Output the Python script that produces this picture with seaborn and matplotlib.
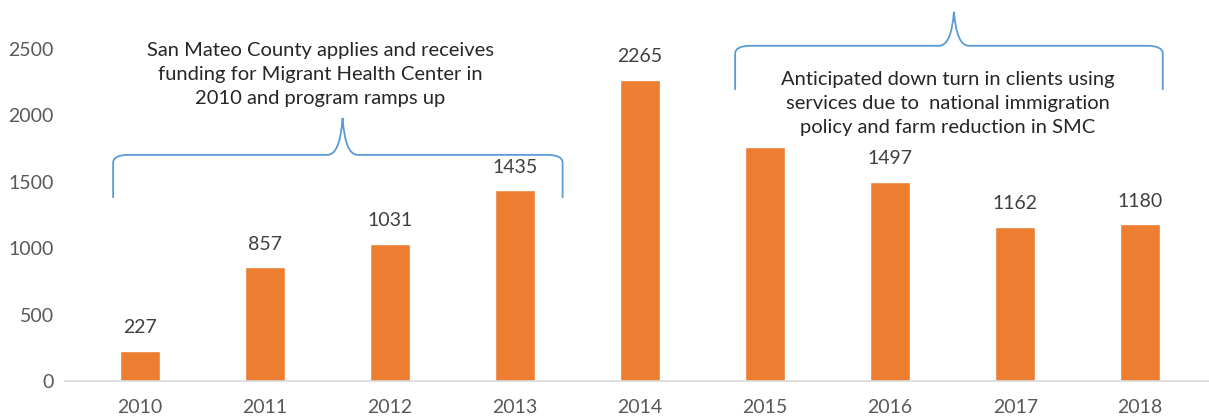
import matplotlib
matplotlib.use('Agg')
import matplotlib.pyplot as plt
from matplotlib.path import Path
from matplotlib.patches import PathPatch
import seaborn as sns
import pandas as pd

years = ['2010', '2011', '2012', '2013', '2014', '2015', '2016', '2017', '2018']
clients = [227, 857, 1031, 1435, 2265, 1760, 1497, 1162, 1180]
# 2015 label is hidden behind the annotation in the original
show_label = [True, True, True, True, True, False, True, True, True]

note_left = ('San Mateo County applies and receives\n'
             'funding for Migrant Health Center in\n'
             '2010 and program ramps up')
note_right = ('Anticipated down turn in clients using\n'
              'services due to  national immigration\n'
              'policy and farm reduction in SMC')

sns.set_style('white')
plt.rcParams['font.family'] = ['Lato', 'DejaVu Sans']

df = pd.DataFrame({'Year': years, 'Clients': clients})

fig = plt.figure(figsize=(12.09, 4.17), dpi=100)
ax = fig.add_axes([65 / 1209, 1 - 381 / 417, 1 - 65 / 1209, (381 - 9) / 417])

sns.barplot(data=df, x='Year', y='Clients', color='#ED7D31', width=0.32,
            saturation=1, ax=ax)

ax.set_ylim(0, 2800)
ax.set_xlim(-0.6, 8.55)
ax.set_yticks([0, 500, 1000, 1500, 2000, 2500])
ax.set_xlabel('')
ax.set_ylabel('')
for s in ['top', 'right', 'left']:
    ax.spines[s].set_visible(False)
ax.spines['bottom'].set_color('#D9D9D9')
ax.spines['bottom'].set_linewidth(1.2)
ax.tick_params(axis='both', length=0, labelsize=14, colors='#595959')
ax.tick_params(axis='x', pad=13)
ax.tick_params(axis='y', pad=8)

for i, (v, show) in enumerate(zip(clients, show_label)):
    if show:
        ax.text(i, v + 110, str(v), ha='center', va='bottom', fontsize=14,
                color='#404040')


def brace(x0, x1, xm, y_h, y_end, y_tip):
    r = 0.12
    ry = 60
    verts = [
        (x0, y_end), (x0, y_h - ry), (x0, y_h), (x0 + r, y_h),
        (xm - r, y_h), (xm - 0.02, y_h), (xm, y_tip),
        (xm + 0.02, y_h), (xm + r, y_h),
        (x1 - r, y_h), (x1, y_h), (x1, y_h - ry), (x1, y_end),
    ]
    codes = [Path.MOVETO, Path.LINETO, Path.CURVE3, Path.CURVE3,
             Path.LINETO, Path.CURVE3, Path.CURVE3,
             Path.CURVE3, Path.CURVE3,
             Path.LINETO, Path.CURVE3, Path.CURVE3, Path.LINETO]
    ax.add_patch(PathPatch(Path(verts, codes), fill=False, edgecolor='#5B9BD5',
                           lw=1.3, clip_on=False))


brace(-0.215, 3.38, 1.62, 1702, 1378, 1980)
brace(4.76, 8.18, 6.51, 2523, 2191, 2779)

ax.text(1.44, 2305, note_left, ha='center', va='center', fontsize=14.5,
        color='#262626', linespacing=1.5)
ax.text(6.46, 2085, note_right, ha='center', va='center', fontsize=14.5,
        color='#262626', linespacing=1.5)

fig.savefig('out.png', dpi=100)
